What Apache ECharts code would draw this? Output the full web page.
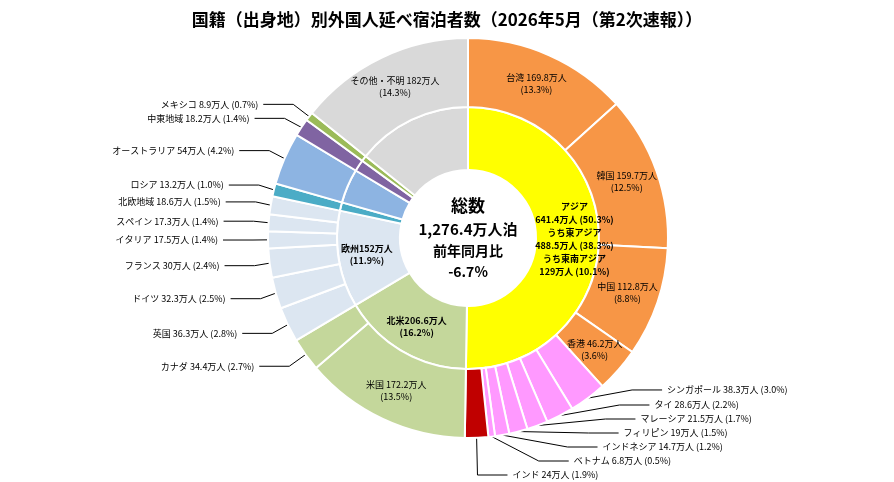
<!DOCTYPE html>
<html><head><meta charset="utf-8">
<script src="https://cdn.jsdelivr.net/npm/echarts@6/dist/echarts.min.js"></script>
<style>html,body{margin:0;background:#fff}#c{width:894px;height:482px}</style>
</head><body><div id="c"></div>
<script>
// Values in 万人泊
const TOTAL = 1276.4
const innerNames = ["アジア", "北米", "欧州", "ロシア", "オーストラリア", "中東地域", "メキシコ", "その他・不明"]
const innerValues = [641.4, 206.6, 152, 13.2, 54, 18.2, 8.9, 182]
const innerColors = ["#FFFF00", "#C4D79B", "#DCE6F1", "#4BACC6", "#8DB4E2", "#8064A2", "#9BBB59", "#D9D9D9"]

const outerNames = ["台湾", "韓国", "中国", "香港", "シンガポール", "タイ", "マレーシア", "フィリピン",
  "インドネシア", "ベトナム", "インド", "米国", "カナダ", "英国", "ドイツ", "フランス", "イタリア",
  "スペイン", "北欧地域", "ロシア", "オーストラリア", "中東地域", "メキシコ", "その他・不明"]
const outerValues = [169.8, 159.7, 112.8, 46.2, 38.3, 28.6, 21.5, 19, 14.7, 6.8, 24, 172.2, 34.4,
  36.3, 32.3, 30, 17.5, 17.3, 18.6, 13.2, 54, 18.2, 8.9, 182]
const outerColors = ["#F79646", "#F79646", "#F79646", "#F79646", "#FF99FF", "#FF99FF", "#FF99FF",
  "#FF99FF", "#FF99FF", "#FF99FF", "#C00000", "#C4D79B", "#C4D79B", "#DCE6F1", "#DCE6F1", "#DCE6F1",
  "#DCE6F1", "#DCE6F1", "#DCE6F1", "#4BACC6", "#8DB4E2", "#8064A2", "#9BBB59", "#D9D9D9"]
const insideOuter = ["台湾", "韓国", "中国", "香港", "米国", "その他・不明"]

const pct = (v) => (v / TOTAL * 100).toFixed(1) + "%"
const center = [468, 238]
const font = "'Noto Sans CJK JP', sans-serif"

const innerData = innerNames.map((n, i) => {
  const d = {name: n, value: innerValues[i], itemStyle: {color: innerColors[i]}, label: {show: false}}
  if (n === "アジア") {
    d.label = {show: true, position: "inside", lineHeight: 13, offset: [4, 0],
      formatter: "アジア\n641.4万人 (50.3%)\nうち東アジア\n488.5万人 (38.3%)\nうち東南アジア\n129万人 (10.1%)"}
  } else if (n === "北米" || n === "欧州") {
    d.label = {show: true, position: "inside", formatter: `${n}${innerValues[i]}万人\n(${pct(innerValues[i])})`}
  }
  return d
})

const outerData = outerNames.map((n, i) => {
  const v = outerValues[i]
  const inside = insideOuter.includes(n)
  return {
    name: n, value: v, itemStyle: {color: outerColors[i]},
    label: inside
      ? {position: "inside", formatter: `${n} ${v}万人\n(${pct(v)})`}
      : {position: "outside", formatter: `${n} ${v}万人 (${pct(v)})`},
    labelLine: {show: !inside},
  }
})

const chart = echarts.init(document.getElementById("c"))
chart.setOption({
  animation: false,
  textStyle: {fontFamily: font},
  title: {
    text: "国籍（出身地）別外国人延べ宿泊者数（2026年5月（第2次速報））",
    left: "center", top: 6,
    textStyle: {fontSize: 17, fontWeight: "bold", color: "#000", fontFamily: font},
  },
  graphic: [{
    type: "text", x: center[0], y: center[1],
    style: {
      text: "{a|総数}\n{b|1,276.4万人泊}\n{c|前年同月比}\n{c|-6.7%}",
      align: "center", verticalAlign: "middle",
      rich: {
        a: {fontSize: 17, fontWeight: "bold", lineHeight: 24, fontFamily: font},
        b: {fontSize: 15, fontWeight: "bold", lineHeight: 22, fontFamily: font},
        c: {fontSize: 14, fontWeight: "bold", lineHeight: 21, fontFamily: font},
      },
    },
  }],
  series: [
    {
      type: "pie", center, radius: [68, 131], startAngle: 90, clockwise: true,
      avoidLabelOverlap: false,
      itemStyle: {borderColor: "#fff", borderWidth: 2},
      label: {fontSize: 9, fontWeight: "bold", color: "#000", lineHeight: 12},
      labelLine: {show: false},
      data: innerData,
    },
    {
      type: "pie", center, radius: [131, 200], startAngle: 90, clockwise: true,
      itemStyle: {borderColor: "#fff", borderWidth: 2},
      label: {fontSize: 9, color: "#000", lineHeight: 12},
      labelLine: {length: 20, length2: 30, lineStyle: {color: "#000", width: 1}},
      data: outerData,
    },
  ],
})
</script></body></html>
